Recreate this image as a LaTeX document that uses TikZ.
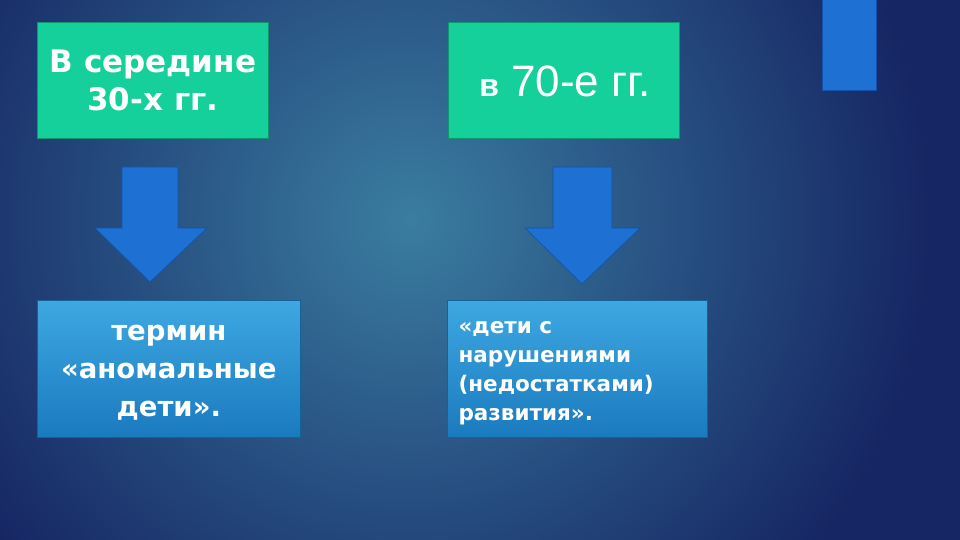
\documentclass[tikz,border=0pt]{standalone}
\usepackage{fontspec}
\setmainfont{DejaVu Sans}
\newfontfamily\arialf{Liberation Sans}
\definecolor{bgdark}{RGB}{22,38,100}
\definecolor{bglight}{RGB}{58,125,160}
\definecolor{greenbox}{RGB}{22,208,155}
\definecolor{greenedge}{RGB}{16,150,110}
\definecolor{bluetop}{RGB}{62,168,226}
\definecolor{bluebot}{RGB}{26,122,190}
\definecolor{arrowblue}{RGB}{30,112,210}
\definecolor{arrowedge}{RGB}{20,80,170}
\tikzset{
  gbox/.style={draw=greenedge, line width=0.8pt, fill=greenbox, text=white, align=center, inner sep=0pt},
  bbox/.style={draw=bluebot!80!black, line width=0.6pt, top color=bluetop, bottom color=bluebot, text=white, inner sep=0pt},
  downarrow/.style={fill=arrowblue, draw=arrowedge, line width=0.6pt, line join=miter},
}
\begin{document}
\begin{tikzpicture}[x=1pt,y=-1pt]
\useasboundingbox (0,0) rectangle (960,540);
\fill[bgdark] (0,0) rectangle (960,540);
\begin{scope}
\clip (0,0) rectangle (960,540);
\shade[inner color=bglight, outer color=bgdark] (410,220) circle (520);
\end{scope}
% top-right bar
\fill[arrowblue, draw=arrowedge, line width=0.6pt] (822,-2) rectangle (876,90);
% green boxes
\node[gbox, minimum width=231pt, minimum height=116pt, anchor=north west] (g1) at (37,22) {};
\node[text=white, align=center, font=\fontsize{31}{38}\selectfont\bfseries] (t1) at (g1.center) {В середине\\30-х гг.};
\node[gbox, minimum width=231pt, minimum height=116pt, anchor=north west] (g2) at (448,22) {};
\node[text=white, font=\arialf\fontsize{44}{48}\selectfont] (t2) at ([xshift=1pt,yshift=-1pt]g2.center) {{\fontsize{32}{34}\selectfont\bfseries в} 70-е гг.};
% blue boxes
\node[bbox, minimum width=263pt, minimum height=137pt, anchor=north west] (b1) at (37,300) {};
\node[text=white, align=center, font=\fontsize{27.5}{38}\selectfont\bfseries] (t3) at ([yshift=-4pt]b1.center) {термин\\«аномальные\\дети».};
\node[bbox, minimum width=260pt, minimum height=137pt, anchor=north west] (b2) at (447,300) {};
\node[text=white, align=left, anchor=west, font=\fontsize{21.5}{29}\selectfont\bfseries] (t4) at ([xshift=8pt,yshift=-4pt]b2.west) {«дети с\\нарушениями\\(недостатками)\\развития».};
% arrows
\draw[downarrow] (122,167) -- (178,167) -- (178,228) -- (207,228) -- (150,282) -- (95,228) -- (122,228) -- cycle;
\draw[downarrow] (553,167) -- (612,167) -- (612,228) -- (640,228) -- (582,284) -- (525,228) -- (553,228) -- cycle;
\end{tikzpicture}
\end{document}
